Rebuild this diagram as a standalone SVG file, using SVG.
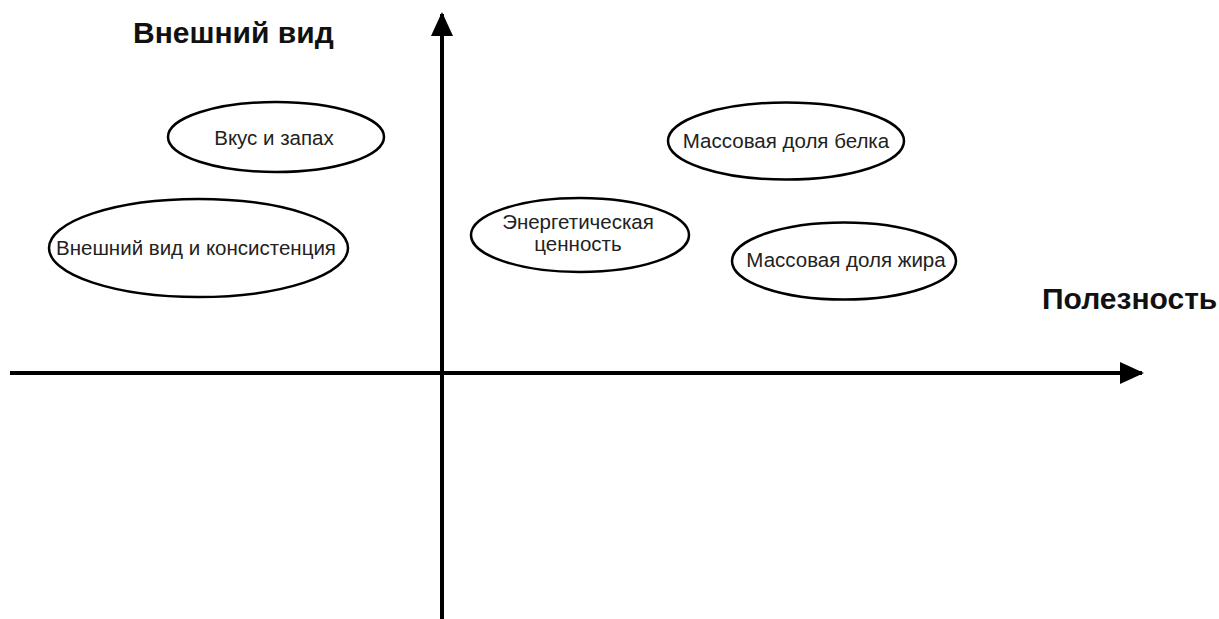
<svg xmlns="http://www.w3.org/2000/svg" width="1219" height="619" viewBox="0 0 1219 619">
  <style>
    .axis { stroke: #000; stroke-width: 4; fill: none; }
    .node ellipse { fill: #fff; stroke: #000; stroke-width: 2.5; }
    .node text { font-family: "Liberation Sans", Arial, sans-serif; font-size: 20.5px; fill: #222; text-anchor: middle; }
    .title { font-family: "Liberation Sans", Arial, sans-serif; font-size: 30px; font-weight: bold; fill: #111; }
  </style>
  <defs>
    <marker id="arrow" viewBox="0 0 24 22" refX="22" refY="11" markerWidth="24" markerHeight="22" markerUnits="userSpaceOnUse" orient="auto">
      <path d="M0,0 L24,11 L0,22 Z" fill="#000"/>
    </marker>
  </defs>
  <rect width="1219" height="619" fill="#fff"/>

  <g id="connectors">
    <line class="axis" x1="10" y1="373" x2="1142" y2="373" marker-end="url(#arrow)"/>
    <line class="axis" x1="442" y1="619" x2="442" y2="14" marker-end="url(#arrow)"/>
  </g>

  <text id="label-y" class="title" x="133" y="43">Внешний вид</text>
  <text id="label-x" class="title" x="1042" y="309">Полезность</text>

  <g id="node-taste" class="node">
    <ellipse cx="276" cy="137" rx="108" ry="35"/>
    <text x="274" y="145">Вкус и запах</text>
  </g>
  <g id="node-appearance" class="node">
    <ellipse cx="198.5" cy="248" rx="149.5" ry="49"/>
    <text x="196" y="255">Внешний вид и консистенция</text>
  </g>
  <g id="node-protein" class="node">
    <ellipse cx="786" cy="141" rx="118" ry="38.5"/>
    <text x="786" y="148">Массовая доля белка</text>
  </g>
  <g id="node-energy" class="node">
    <ellipse cx="580" cy="235" rx="109" ry="37"/>
    <text x="578" y="229">Энергетическая</text>
    <text x="578" y="251">ценность</text>
  </g>
  <g id="node-fat" class="node">
    <ellipse cx="844" cy="261" rx="112" ry="38.5"/>
    <text x="846" y="267">Массовая доля жира</text>
  </g>
</svg>
